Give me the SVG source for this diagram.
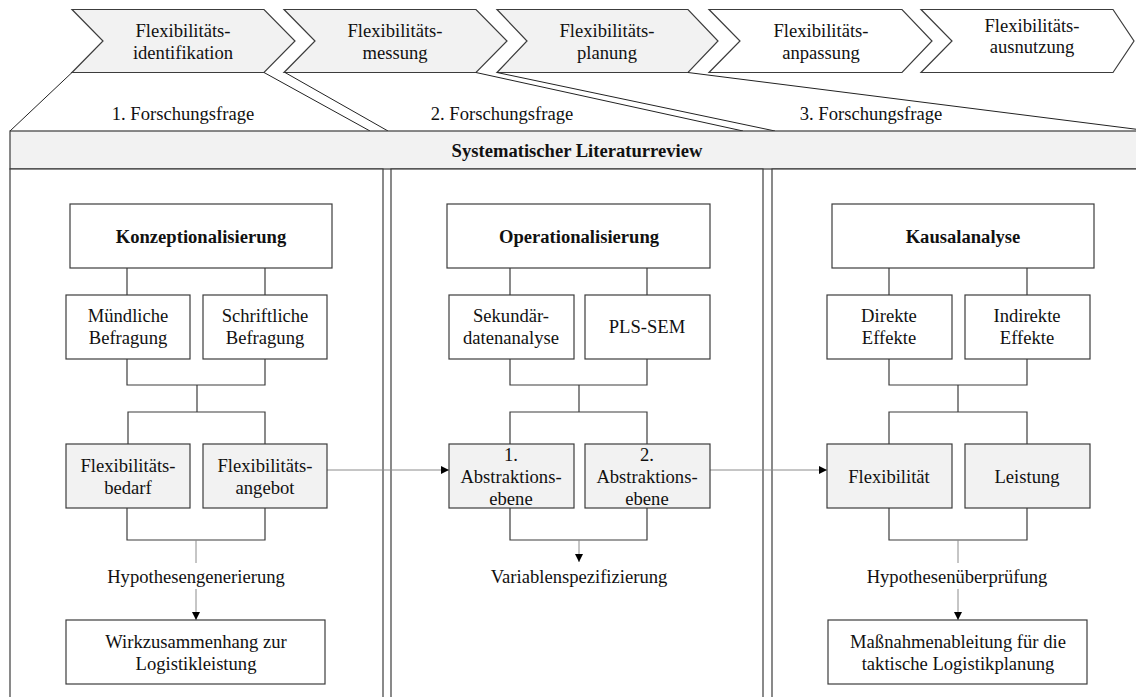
<svg xmlns="http://www.w3.org/2000/svg" width="1136" height="697" viewBox="0 0 1136 697" font-family="Liberation Serif, Times New Roman, serif">
<style>
text{font-size:18.6px;fill:#111;text-anchor:middle}
.b{font-weight:bold}
.box{fill:#fff;stroke:#3c3c3c;stroke-width:1.2}
.g{fill:#f2f2f2;stroke:#3c3c3c;stroke-width:1.2}
.ln{fill:none;stroke:#3c3c3c;stroke-width:1.2}
.thin{fill:none;stroke:#8c8c8c;stroke-width:1}
.edge{fill:none;stroke:#222;stroke-width:1}
</style>
<defs>
<marker id="ah" markerUnits="userSpaceOnUse" markerWidth="10" markerHeight="10" refX="9" refY="5" orient="auto">
<path d="M1,1 L9,5 L1,9 Z" fill="#000"/>
</marker>
</defs>

<g id="phases">
<g id="chev1"><polygon class="g" points="72,9.5 264,9.5 295,41 264,72.5 72,72.5 103,41"/><text x="183" y="37">Flexibilitäts-</text><text x="183" y="59">identifikation</text></g>
<g id="chev2"><polygon class="g" points="284,9.5 476,9.5 507,41 476,72.5 284,72.5 315,41"/><text x="395" y="37">Flexibilitäts-</text><text x="395" y="59">messung</text></g>
<g id="chev3"><polygon class="g" points="497,9.5 688,9.5 718,41 688,72.5 497,72.5 527,41"/><text x="607" y="37">Flexibilitäts-</text><text x="607" y="59">planung</text></g>
<g id="chev4"><polygon class="box" points="709,9.5 902,9.5 932,41 902,72.5 709,72.5 740,41"/><text x="821" y="37">Flexibilitäts-</text><text x="821" y="59">anpassung</text></g>
<g id="chev5"><polygon class="box" points="921,9.5 1113,9.5 1134,41 1113,72.5 921,72.5 952,41"/><text x="1032" y="32">Flexibilitäts-</text><text x="1032" y="53">ausnutzung</text></g>
</g>

<g id="funnels">
<line class="edge" x1="72" y1="72.5" x2="10" y2="131"/>
<line class="edge" x1="264" y1="72.5" x2="370" y2="131"/>
<line class="edge" x1="285" y1="72.5" x2="388" y2="131"/>
<line class="edge" x1="476" y1="72.5" x2="743" y2="131"/>
<line class="edge" x1="497" y1="72.5" x2="775" y2="131"/>
<line class="edge" x1="688" y1="72.5" x2="1150" y2="131"/>
<text x="183" y="120">1. Forschungsfrage</text>
<text x="502" y="120">2. Forschungsfrage</text>
<text x="871" y="120">3. Forschungsfrage</text>
</g>

<g id="review">
<rect class="g" x="10" y="131" width="1140" height="38"/>
<text class="b" x="577" y="157">Systematischer Literaturreview</text>
</g>

<g id="panels">
<rect class="box" x="10" y="169" width="373" height="540"/>
<rect class="box" x="391" y="169" width="372" height="540"/>
<rect class="box" x="772" y="169" width="380" height="540"/>
</g>

<g id="connectors">
<path class="ln" d="M127,268 V295 M265,268 V295 M127,359 V385 H265 V359 M197,385 V412 M128,444 V412 H265 V444 M127,508 V540 H265 V508"/>
<path class="ln" d="M510,268 V295 M647,268 V295 M510,359 V385 H647 V359 M579,385 V412 M510,444 V412 H647 V444 M510,508 V540 H647 V508"/>
<path class="ln" d="M889,268 V295 M1027,268 V295 M889,359 V385 H1027 V359 M958,385 V412 M889,444 V412 H1027 V444 M889,508 V540 H1027 V508"/>
<line class="thin" x1="327" y1="470" x2="449" y2="470" marker-end="url(#ah)"/>
<line class="thin" x1="710" y1="470" x2="827" y2="470" marker-end="url(#ah)"/>
<line class="thin" x1="196" y1="540" x2="196" y2="563"/>
<line class="thin" x1="196" y1="589" x2="196" y2="620" marker-end="url(#ah)"/>
<line class="thin" x1="579" y1="540" x2="579" y2="562" marker-end="url(#ah)"/>
<line class="thin" x1="958" y1="540" x2="958" y2="563"/>
<line class="thin" x1="958" y1="589" x2="958" y2="620" marker-end="url(#ah)"/>
</g>

<g id="konzeptionalisierung"><rect class="box" x="70" y="204" width="262" height="64"/><text class="b" x="201" y="243">Konzeptionalisierung</text></g>
<g id="muendlich"><rect class="box" x="66" y="295" width="124" height="64"/><text x="128" y="322">Mündliche</text><text x="128" y="343.5">Befragung</text></g>
<g id="schriftlich"><rect class="box" x="203" y="295" width="124" height="64"/><text x="265" y="322">Schriftliche</text><text x="265" y="343.5">Befragung</text></g>
<g id="bedarf"><rect class="g" x="66" y="444" width="124" height="64"/><text x="128" y="472">Flexibilitäts-</text><text x="128" y="493.5">bedarf</text></g>
<g id="angebot"><rect class="g" x="203" y="444" width="124" height="64"/><text x="265" y="472">Flexibilitäts-</text><text x="265" y="493.5">angebot</text></g>
<g id="hypgen"><text x="196" y="583">Hypothesengenerierung</text></g>
<g id="wirk"><rect class="box" x="66" y="620" width="259" height="64"/><text x="196" y="648">Wirkzusammenhang zur</text><text x="196" y="670">Logistikleistung</text></g>

<g id="operationalisierung"><rect class="box" x="447" y="204" width="263" height="64"/><text class="b" x="579" y="243">Operationalisierung</text></g>
<g id="sekundaer"><rect class="box" x="449" y="295" width="125" height="64"/><text x="511" y="322">Sekundär-</text><text x="511" y="343.5">datenanalyse</text></g>
<g id="plssem"><rect class="box" x="585" y="295" width="125" height="64"/><text x="647" y="333">PLS-SEM</text></g>
<g id="abs1"><rect class="g" x="449" y="444" width="125" height="64"/><text x="511" y="461">1.</text><text x="511" y="483">Abstraktions-</text><text x="511" y="505">ebene</text></g>
<g id="abs2"><rect class="g" x="585" y="444" width="125" height="64"/><text x="647" y="461">2.</text><text x="647" y="483">Abstraktions-</text><text x="647" y="505">ebene</text></g>
<g id="varspez"><text x="579" y="583">Variablenspezifizierung</text></g>

<g id="kausal"><rect class="box" x="832" y="204" width="262" height="64"/><text class="b" x="963" y="243">Kausalanalyse</text></g>
<g id="direkt"><rect class="box" x="827" y="295" width="125" height="64"/><text x="889" y="322">Direkte</text><text x="889" y="343.5">Effekte</text></g>
<g id="indirekt"><rect class="box" x="965" y="295" width="125" height="64"/><text x="1027" y="322">Indirekte</text><text x="1027" y="343.5">Effekte</text></g>
<g id="flex"><rect class="g" x="827" y="444" width="125" height="64"/><text x="889" y="483">Flexibilität</text></g>
<g id="leistung"><rect class="g" x="965" y="444" width="125" height="64"/><text x="1027" y="483">Leistung</text></g>
<g id="hypuep"><text x="957" y="583">Hypothesenüberprüfung</text></g>
<g id="massnahmen"><rect class="box" x="828" y="620" width="259" height="64"/><text x="958" y="648">Maßnahmenableitung für die</text><text x="958" y="670">taktische Logistikplanung</text></g>
</svg>
